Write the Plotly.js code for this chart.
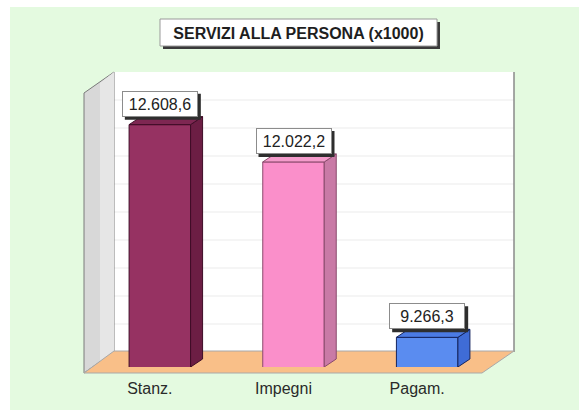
<!DOCTYPE html>
<html><head><meta charset="utf-8">
<script src="https://cdn.plot.ly/plotly-3.0.1.min.js"></script>
<style>html,body{margin:0;padding:0;background:#fff}</style>
</head><body><div id="chart" style="width:579px;height:410px"></div>
<script>
// ---- data ----
const categories = ['Stanz.', 'Impegni', 'Pagam.'];
const values = [12608.6, 12022.2, 9266.3];
const valueLabels = ['12.608,6', '12.022,2', '9.266,3'];
const titleText = 'SERVIZI ALLA PERSONA (x1000)';
const yRange = [8800, 13200];
const gridStep = 440;

// ---- styles ----
const frontColors = ['#963262', '#fa8fca', '#5a8cf0'];
const sideColors  = ['#6c1e44', '#c97aa6', '#3f6cd6'];
const topColors   = ['#7e2752', '#f49bcb', '#4b7be4'];
const lineColors  = ['#3e0c26', '#8a4a6c', '#14245e'];
const FONT = 'Liberation Sans, Arial, sans-serif';

// ---- geometry helpers ----
const W = 579, H = 410, L = 93, R = 85, T = 87, B = 43;
const PW = W - L - R, PH = H - T - B;
const px = x => (x - L) / PW;
const py = y => (H - B - y) / PH;
const catPx = PW / categories.length;
const unitsPerPx = (yRange[1] - yRange[0]) / PH;
const barW = 0.46;
const dX = 12 / catPx;          // bar depth in category units
const dY = 8 * unitsPerPx;      // bar depth in value units
const xs = categories.map((_, i) => i);

const shapes = [];
// page background
shapes.push({type:'rect', xref:'paper', yref:'paper', x0:px(10), x1:px(W), y0:py(7), y1:py(H),
  fillcolor:'#e4fae0', line:{width:0}, layer:'below'});
// back wall
shapes.push({type:'rect', xref:'paper', yref:'paper', x0:px(114), x1:px(514), y0:py(352), y1:py(72),
  fillcolor:'#ffffff', line:{width:0}, layer:'below'});
// gridlines on back wall
for (let t = yRange[0] + gridStep; t < yRange[1] - 1; t += gridStep) {
  const yy = (t - yRange[0]) / (yRange[1] - yRange[0]) + 15 / PH;
  shapes.push({type:'line', xref:'paper', yref:'paper', x0:px(114), x1:px(514), y0:yy, y1:yy,
    line:{color:'#ebebeb', width:1}, layer:'below'});
}
// back wall right edge
shapes.push({type:'line', xref:'paper', yref:'paper', x0:px(514), x1:px(514), y0:py(72), y1:py(352),
  line:{color:'#8a8a8a', width:1.5}, layer:'below'});
// left wall
shapes.push({type:'path', xref:'paper', yref:'paper',
  path:`M${px(84)},${py(93)} L${px(114)},${py(72)} L${px(114)},${py(352)} L${px(84)},${py(373)} Z`,
  fillcolor:'#d8d8d8', line:{color:'#7a7a7a', width:1}, layer:'below'});
shapes.push({type:'path', xref:'paper', yref:'paper',
  path:`M${px(100)},${py(83)} L${px(114)},${py(72)} L${px(114)},${py(352)} L${px(100)},${py(362)} Z`,
  fillcolor:'#e6e6e6', line:{width:0}, layer:'below'});
// floor
shapes.push({type:'path', xref:'paper', yref:'paper',
  path:`M${px(84)},${py(373)} L${px(482)},${py(373)} L${px(514)},${py(351)} L${px(114)},${py(351)} Z`,
  fillcolor:'#f9bf88', line:{color:'#a8a8a8', width:1}, layer:'below'});
// title box + shadow
shapes.push({type:'rect', xref:'paper', yref:'paper', x0:px(163), x1:px(440), y0:py(49), y1:py(22),
  fillcolor:'#3a3a3a', line:{width:0}, layer:'below'});
shapes.push({type:'rect', xref:'paper', yref:'paper', x0:px(160), x1:px(437), y0:py(46), y1:py(19),
  fillcolor:'#ffffff', line:{color:'#9a9a9a', width:1}, layer:'below'});

// 3D faces of bars, computed from data, plus label shadows anchored at each value
values.forEach((v, i) => {
  const b = yRange[0];
  const xl = i - barW / 2, xr = i + barW / 2;
  shapes.push({type:'path', xref:'x', yref:'y',
    path:`M${xr},${b} L${xr},${v} L${xr + dX},${v + dY} L${xr + dX},${b + dY} Z`,
    fillcolor:sideColors[i], line:{color:lineColors[i], width:1}, layer:'above'});
  shapes.push({type:'path', xref:'x', yref:'y',
    path:`M${xl},${v} L${xr},${v} L${xr + dX},${v + dY} L${xl + dX},${v + dY} Z`,
    fillcolor:topColors[i], line:{color:lineColors[i], width:1}, layer:'above'});
  shapes.push({type:'rect', xref:'x', yref:'y', xsizemode:'pixel', ysizemode:'pixel',
    xanchor:i, yanchor:v, x0:-35, x1:41, y0:5, y1:31,
    fillcolor:'#2e2e2e', line:{width:0}, layer:'above'});
});

// value labels
const annotations = values.map((v, i) => ({
  x:i, y:v, xref:'x', yref:'y', yanchor:'bottom', xanchor:'center', showarrow:false,
  width:70, height:20, borderpad:2, borderwidth:1, bgcolor:'#ffffff', bordercolor:'#8c8c8c',
  yshift:8, text:valueLabels[i], font:{family:FONT, size:16, color:'#222'}
}));

const trace = {
  type:'bar', x:xs, y:values, width:barW,
  marker:{color:frontColors, line:{color:lineColors, width:1}},
  hoverinfo:'skip', showlegend:false
};

const layout = {
  width:W, height:H, autosize:false,
  margin:{l:L, r:R, t:T, b:B, pad:0},
  paper_bgcolor:'#ffffff', plot_bgcolor:'rgba(0,0,0,0)',
  title:{text:'<b>' + titleText + '</b>', font:{family:FONT, size:16, color:'#1e1e1e'},
    x:298.5 / W, xanchor:'center', y:1 - 33 / H, yanchor:'middle', xref:'container', yref:'container'},
  xaxis:{range:[-0.5, categories.length - 0.5], tickvals:xs, ticktext:categories,
    showgrid:false, zeroline:false, showline:false, ticks:'',
    ticklabelshift:-10, ticklabelstandoff:10,
    tickfont:{family:FONT, size:16, color:'#2a2a2a'}, fixedrange:true},
  yaxis:{range:yRange, showgrid:false, zeroline:false, showline:false, showticklabels:false,
    ticks:'', fixedrange:true},
  shapes:shapes, annotations:annotations, bargap:0, showlegend:false
};

Plotly.newPlot('chart', [trace], layout, {displayModeBar:false, staticPlot:true});
</script>
</body></html>
